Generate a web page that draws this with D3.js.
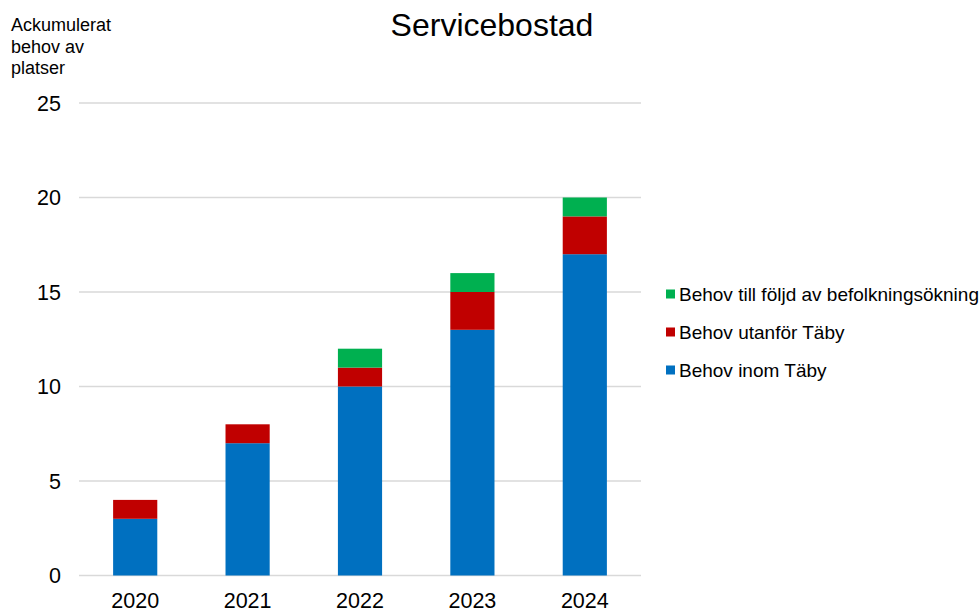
<!DOCTYPE html>
<html><head><meta charset="utf-8">
<script src="https://cdn.jsdelivr.net/npm/d3@7"></script>
<style>body{margin:0;background:#fff;font-family:"Liberation Sans",Arial,sans-serif;}</style>
</head><body>
<svg id="c" width="980" height="609"></svg>
<script>
const categories = ["2020","2021","2022","2023","2024"];
const inom = [3,7,10,13,17];
const utanfor = [1,1,1,2,2];
const befolkning = [0,0,1,1,1];
const seriesNames = ["Behov inom Täby","Behov utanför Täby","Behov till följd av befolkningsökning"];
const seriesColors = ["#0070C0","#C00000","#00B050"];
const yTicks = [0,5,10,15,20,25];

const svg = d3.select("#c");
const x = d3.scaleBand().domain(categories).range([79,641]).paddingInner(0.607).paddingOuter(0.3035);
const y = d3.scaleLinear().domain([0,25]).range([575.5,103]);

// gridlines
svg.append("g").selectAll("line").data(yTicks).join("line")
  .attr("x1",79).attr("x2",641).attr("y1",d=>y(d)).attr("y2",d=>y(d))
  .attr("stroke","#d9d9d9").attr("stroke-width",1.3);

// y tick labels
svg.append("g").selectAll("text").data(yTicks).join("text")
  .attr("x",61).attr("y",d=>y(d)+7.5).attr("text-anchor","end")
  .attr("font-size",21.5).attr("fill","#000").text(d=>d);

// stacked data
const rows = categories.map((c,i)=>({cat:c, s0:inom[i], s1:utanfor[i], s2:befolkning[i]}));
const stack = d3.stack().keys(["s0","s1","s2"])(rows);
svg.append("g").selectAll("g").data(stack).join("g")
  .attr("fill",(d,i)=>seriesColors[i])
  .selectAll("rect").data(d=>d.filter(p=>p[1]-p[0]>0)).join("rect")
  .attr("x",d=>x(d.data.cat)).attr("width",x.bandwidth())
  .attr("y",d=>y(d[1])).attr("height",d=>y(d[0])-y(d[1]));

// x labels
svg.append("g").selectAll("text").data(categories).join("text")
  .attr("x",d=>x(d)+x.bandwidth()/2).attr("y",608).attr("text-anchor","middle")
  .attr("font-size",21.5).attr("fill","#000").text(d=>d);

// title
svg.append("text").attr("x",492).attr("y",36).attr("text-anchor","middle")
  .attr("font-size",32).attr("fill","#000").text("Servicebostad");

// y axis title
const yt = ["Ackumulerat","behov av","platser"];
svg.append("g").selectAll("text").data(yt).join("text")
  .attr("x",11).attr("y",(d,i)=>31+i*21.5).attr("font-size",18).attr("fill","#000").text(d=>d);

// legend
const leg = [2,1,0];
const lg = svg.append("g").selectAll("g").data(leg).join("g")
  .attr("transform",(d,i)=>`translate(666,${294+i*38})`);
lg.append("rect").attr("x",0).attr("y",-4.5).attr("width",9).attr("height",9).attr("fill",d=>seriesColors[d]);
lg.append("text").attr("x",13).attr("y",7).attr("font-size",19).attr("fill","#000").text(d=>seriesNames[d]);
</script>
</body></html>
